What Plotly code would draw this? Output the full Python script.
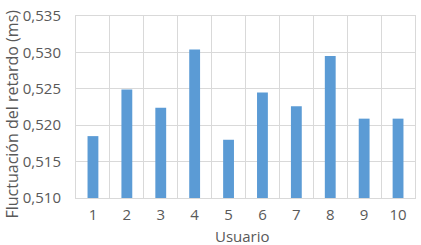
import plotly.graph_objects as go

usuarios = ["1", "2", "3", "4", "5", "6", "7", "8", "9", "10"]
fluctuacion = [0.5185, 0.5249, 0.5224, 0.5304, 0.5180, 0.5245, 0.5226, 0.5295, 0.5209, 0.5209]
y_ticks = [0.510, 0.515, 0.520, 0.525, 0.530, 0.535]
y_tick_labels = ["0,510", "0,515", "0,520", "0,525", "0,530", "0,535"]
y_base = 0.510
x_title = "Usuario"
y_title = "Fluctuación del retardo (ms)"

font_family = "Open Sans, Liberation Sans, sans-serif"
grid = "#d9d9d9"
txt = "#595959"

fig = go.Figure(
    go.Bar(
        x=usuarios,
        y=[v - y_base for v in fluctuacion],
        base=y_base,
        width=0.32,
        marker=dict(color="#5b9bd5", line=dict(width=0)),
    )
)

fig.update_layout(
    width=421,
    height=245,
    margin=dict(l=76, r=5, t=10, b=47),
    paper_bgcolor="white",
    plot_bgcolor="white",
    showlegend=False,
    font=dict(family=font_family, size=15, color=txt),
    xaxis=dict(
        type="category",
        tickson="boundaries",
        showgrid=True,
        gridcolor=grid,
        gridwidth=1,
        ticks="",
        showline=True,
        linecolor=grid,
        linewidth=1,
        mirror=True,
        ticklabelstandoff=3,
        tickfont=dict(size=15, color=txt),
    ),
    yaxis=dict(
        range=[0.510, 0.5350001],
        tickvals=y_ticks,
        ticktext=y_tick_labels,
        showgrid=True,
        gridcolor=grid,
        gridwidth=1,
        zeroline=False,
        showline=True,
        linecolor=grid,
        linewidth=1,
        mirror=True,
        ticks="",
        ticklabelstandoff=11,
        ticklabeloverflow="allow",
        tickfont=dict(size=15, color=txt),
    ),
    annotations=[
        dict(
            text=x_title, xref="paper", yref="paper", x=0.49, y=-0.1463,
            xanchor="center", yanchor="top", showarrow=False, borderpad=0,
            font=dict(size=15, color=txt),
        ),
        dict(
            text=y_title, xref="paper", yref="paper", x=-0.188, y=0.46,
            xanchor="center", yanchor="middle", showarrow=False, textangle=-90,
            font=dict(size=16, color=txt),
        ),
    ],
)

fig.write_html("out.html")
